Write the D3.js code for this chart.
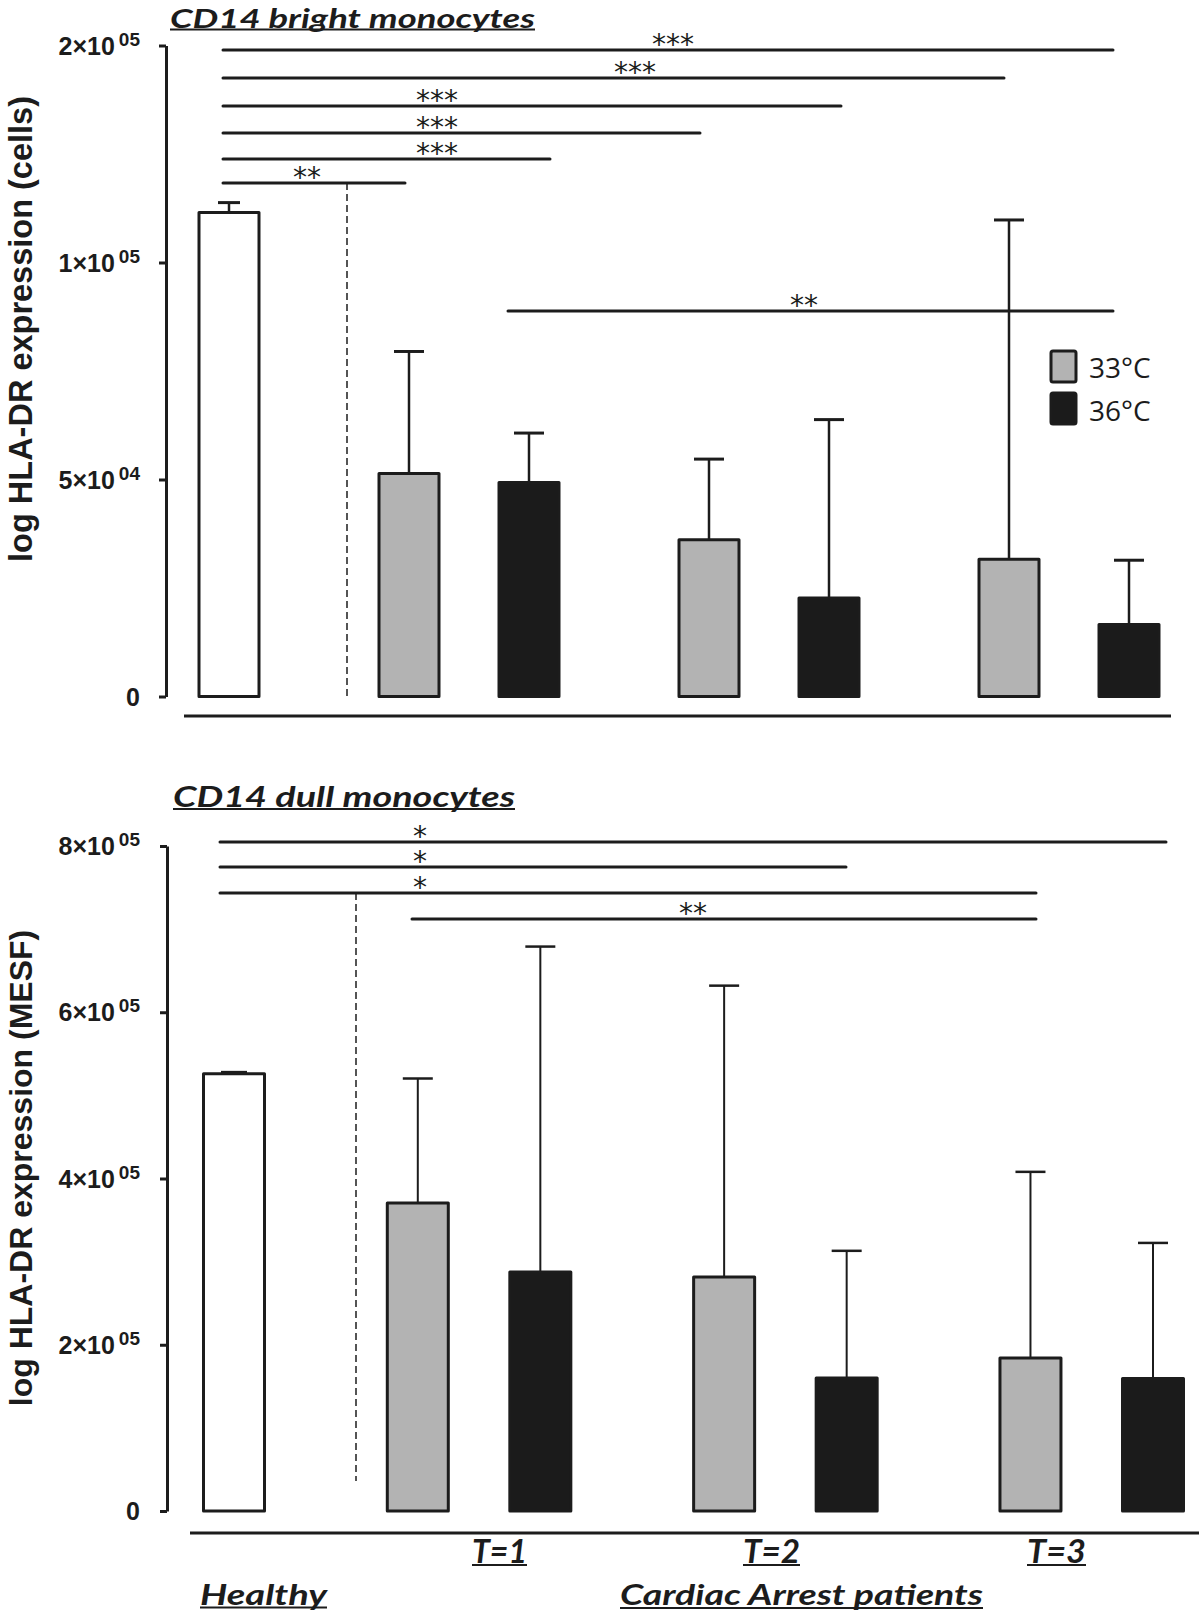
<!DOCTYPE html>
<html><head><meta charset="utf-8">
<script src="https://cdn.jsdelivr.net/npm/d3@7"></script>
<style>body{margin:0;background:#fff}</style>
</head><body>
<svg id="c" width="1200" height="1620" xmlns="http://www.w3.org/2000/svg"></svg>
<script>
// ---------------- data ----------------
const categories = ["Healthy", "T=1", "T=1", "T=2", "T=2", "T=3", "T=3"];
const series = ["Healthy", "33°C", "36°C", "33°C", "36°C", "33°C", "36°C"];
const brightMeans = [123000, 51400, 49300, 36100, 22700, 31600, 16600];
const brightErrTop = [127600, 79500, 60700, 54700, 63800, 119600, 31400];
const dullMeans = [526000, 370600, 287600, 281600, 160000, 184000, 159300];
const dullErrTop = [528000, 520300, 679000, 632000, 313000, 408000, 322500];
const brightTicks = [0, 50000, 100000, 200000];
const brightTickMant = ["0", "5×10", "1×10", "2×10"];
const brightTickExp = ["", "04", "05", "05"];
const dullTicks = [0, 200000, 400000, 600000, 800000];
const dullTickMant = ["0", "2×10", "4×10", "6×10", "8×10"];
const dullTickExp = ["", "05", "05", "05", "05"];
const timepoints = ["T=1", "T=2", "T=3"];
const legendLabels = ["33°C", "36°C"];
const brightSig = ["***", "***", "***", "***", "***", "**", "**"];
const dullSig = ["*", "*", "*", "**"];

// ---------------- layout / style ----------------
const INK = "#1c1c1c";
const fills = {"Healthy": "#ffffff", "33°C": "#b3b3b3", "36°C": "#1b1b1b"};
const slots = [0, 1.5, 2.5, 4, 5, 6.5, 7.5];
const TITLE_FONT = "Lato, 'Open Sans', sans-serif";
const AX_FONT = "'Liberation Sans', Arial, sans-serif";

const svg = d3.select("#c");

function underlinedText(x, y, txt, size, ulOff, width) {
  const t = svg.append("text").attr("x", x).attr("y", y)
    .attr("font-family", TITLE_FONT).attr("font-weight", "bold").attr("font-style", "italic")
    .attr("font-size", size).attr("fill", INK).text(txt);
  if (width) t.attr("textLength", width).attr("lengthAdjust", "spacingAndGlyphs");
  const w = width || t.node().getComputedTextLength();
  svg.append("line").attr("x1", x).attr("x2", x + w).attr("y1", y + ulOff).attr("y2", y + ulOff)
    .attr("stroke", INK).attr("stroke-width", 2);
  return t;
}

function drawPanel(cfg) {
  const g = svg.append("g");
  const x = d3.scaleLinear().domain([0, 7.5]).range(cfg.xRange);
  const y = cfg.y;

  // y axis
  const ax = g.append("g").attr("transform", `translate(${cfg.axisX},0)`)
    .call(d3.axisLeft(y).tickValues(cfg.ticks).tickSize(7).tickSizeOuter(0).tickFormat(""));
  ax.select(".domain").attr("stroke", INK).attr("stroke-width", 3);
  ax.selectAll(".tick line").attr("stroke", INK).attr("stroke-width", 3);

  cfg.ticks.forEach((t, i) => {
    const tx = g.append("text").attr("x", cfg.labelX).attr("y", y(t) + 9)
      .attr("text-anchor", "end").attr("font-family", AX_FONT).attr("font-weight", "bold")
      .attr("font-size", 25).attr("fill", INK);
    tx.append("tspan").text(cfg.mant[i]);
    if (cfg.exp[i]) tx.append("tspan").attr("dx", 4).attr("dy", -9).attr("font-size", 19).text(cfg.exp[i]);
  });

  // y label
  g.append("text").attr("transform", `translate(${cfg.ylabX},${cfg.ylabY}) rotate(-90)`)
    .attr("text-anchor", "middle").attr("font-family", AX_FONT).attr("font-weight", "bold")
    .attr("font-size", cfg.ylabSize).attr("fill", INK).text(cfg.ylab);

  // category baseline
  g.append("line").attr("x1", cfg.baseX[0]).attr("x2", cfg.baseX[1])
    .attr("y1", cfg.baseY).attr("y2", cfg.baseY).attr("stroke", INK).attr("stroke-width", 3);

  // dashed separator
  g.append("line").attr("x1", cfg.dash.x).attr("x2", cfg.dash.x).attr("y1", cfg.dash.y1).attr("y2", cfg.dash.y2)
    .attr("stroke", INK).attr("stroke-width", 1.5).attr("stroke-dasharray", "7,4");

  // error bars
  const eb = g.selectAll("g.err").data(cfg.means).join("g").attr("class", "err");
  eb.append("line")
    .attr("x1", (d, i) => x(slots[i])).attr("x2", (d, i) => x(slots[i]))
    .attr("y1", d => y(d)).attr("y2", (d, i) => y(cfg.errTop[i]))
    .attr("stroke", INK).attr("stroke-width", cfg.errW);
  eb.append("line")
    .attr("x1", (d, i) => x(slots[i]) - (i === 0 ? cfg.capH : 15))
    .attr("x2", (d, i) => x(slots[i]) + (i === 0 ? cfg.capH : 15))
    .attr("y1", (d, i) => y(cfg.errTop[i])).attr("y2", (d, i) => y(cfg.errTop[i]))
    .attr("stroke", INK).attr("stroke-width", cfg.errW + 0.5);

  // bars
  g.selectAll("rect.bar").data(cfg.means).join("rect").attr("class", "bar")
    .attr("x", (d, i) => x(slots[i]) - cfg.barW / 2)
    .attr("y", d => y(d))
    .attr("width", cfg.barW)
    .attr("height", d => y(0) - y(d))
    .attr("fill", (d, i) => fills[series[i]])
    .attr("stroke", INK).attr("stroke-width", 3).attr("stroke-linejoin", "round");

  // significance brackets
  cfg.sig.forEach((s, i) => {
    g.append("line").attr("x1", s.x1).attr("x2", s.x2).attr("y1", s.y).attr("y2", s.y)
      .attr("stroke", INK).attr("stroke-width", 3).attr("stroke-linecap", "round");
    g.append("text").attr("x", s.lx).attr("y", s.y + 3.5).attr("text-anchor", "middle")
      .attr("font-family", "'DejaVu Sans', sans-serif").attr("font-size", 28).attr("fill", INK)
      .text(cfg.sigLabels[i]);
  });
}

// ---- top panel ----
const yTopB = 45.5, yBotB = 696.5;
const yBright = d3.scaleLinear().domain(brightTicks)
  .range(brightTicks.map((d, i) => yBotB - i * (yBotB - yTopB) / (brightTicks.length - 1)));

drawPanel({
  y: yBright, ticks: brightTicks, mant: brightTickMant, exp: brightTickExp,
  axisX: 166, labelX: 140, xRange: [229, 1129], barW: 60, errW: 2.5, capH: 11,
  means: brightMeans, errTop: brightErrTop,
  baseX: [184, 1171], baseY: 716,
  ylab: "log HLA-DR expression (cells)", ylabX: 32, ylabY: 329, ylabSize: 32.5,
  dash: {x: 347, y1: 183, y2: 697},
  sigLabels: brightSig,
  sig: [
    {x1: 223, x2: 1113, y: 50, lx: 673},
    {x1: 223, x2: 1004, y: 78, lx: 635},
    {x1: 223, x2: 841, y: 106, lx: 437},
    {x1: 223, x2: 700, y: 133, lx: 437},
    {x1: 223, x2: 550, y: 159, lx: 437},
    {x1: 223, x2: 405, y: 183, lx: 307},
    {x1: 508, x2: 1113, y: 311, lx: 804}
  ]
});

// legend
const legendFills = [fills["33°C"], fills["36°C"]];
const lg = svg.append("g");
lg.selectAll("rect").data(legendLabels).join("rect")
  .attr("x", 1051).attr("y", (d, i) => 351 + i * 42).attr("width", 25).attr("height", 31)
  .attr("rx", 2).attr("fill", (d, i) => legendFills[i]).attr("stroke", INK).attr("stroke-width", 3);
lg.selectAll("text").data(legendLabels).join("text")
  .attr("x", 1089).attr("y", (d, i) => 378 + i * 43)
  .attr("font-family", "'Open Sans', sans-serif").attr("font-size", 28).attr("fill", INK)
  .text(d => d);

// ---- bottom panel ----
const yDull = d3.scaleLinear().domain([0, 800000]).range([1511, 846]);
drawPanel({
  y: yDull, ticks: dullTicks, mant: dullTickMant, exp: dullTickExp,
  axisX: 167, labelX: 140, xRange: [234, 1153], barW: 61, errW: 2, capH: 13,
  means: dullMeans, errTop: dullErrTop,
  baseX: [190, 1199], baseY: 1533,
  ylab: "log HLA-DR expression (MESF)", ylabX: 32, ylabY: 1168, ylabSize: 32,
  dash: {x: 356, y1: 893, y2: 1481},
  sigLabels: dullSig,
  sig: [
    {x1: 220, x2: 1166, y: 842, lx: 420},
    {x1: 220, x2: 846, y: 867, lx: 420},
    {x1: 220, x2: 1036, y: 893, lx: 420},
    {x1: 412, x2: 1036, y: 919, lx: 693}
  ]
});

// titles & category labels
underlinedText(170, 28, "CD14 bright monocytes", 27, 1.5, 365);
underlinedText(173, 807, "CD14 dull monocytes", 29, 2, 342);
const tpX = [472, 743, 1027];
const tpW = [55, 57, 59];
timepoints.forEach((t, i) => underlinedText(tpX[i], 1563, t, 32, 2, tpW[i]));
underlinedText(200, 1605, categories[0], 29, 2.5, 127);
underlinedText(620, 1605, "Cardiac Arrest patients", 29, 3, 363);
</script>
</body></html>
